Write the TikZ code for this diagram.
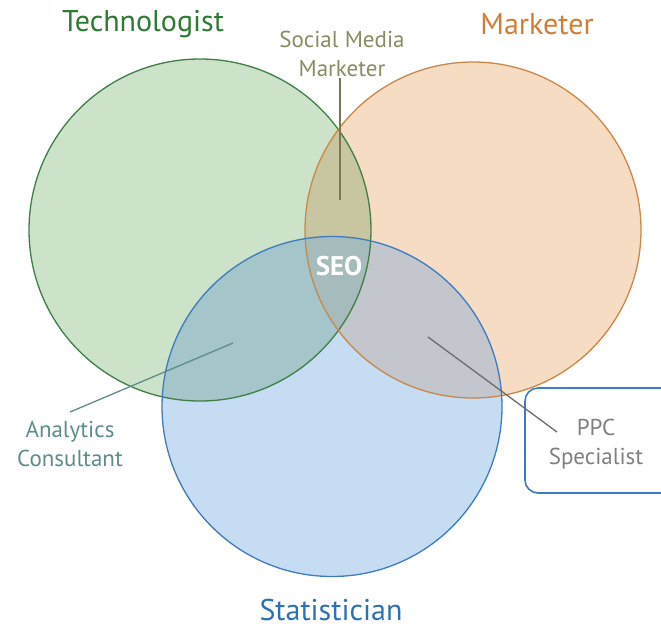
\documentclass[tikz,border=0pt]{standalone}
\usepackage{fontspec}
\setmainfont{PT Sans}
\definecolor{gfill}{HTML}{CDE3C9}
\definecolor{ofill}{HTML}{F6DCC3}
\definecolor{bfill}{HTML}{C6DCF3}
\definecolor{gbfill}{HTML}{A4C5C9}
\definecolor{obfill}{HTML}{C3C6CC}
\definecolor{gofill}{HTML}{C8C6A0}
\definecolor{allfill}{HTML}{A6BCBC}
\definecolor{gline}{HTML}{3E7F45}
\definecolor{oline}{HTML}{C8884A}
\definecolor{bline}{HTML}{3F7BC0}
\definecolor{gtext}{HTML}{2F7A32}
\definecolor{otext}{HTML}{D07E35}
\definecolor{btext}{HTML}{2E70B8}
\definecolor{smtext}{HTML}{8C8A62}
\definecolor{smline}{HTML}{7A7850}
\definecolor{actext}{HTML}{5E8C8C}
\definecolor{ppctext}{HTML}{7F7F7F}
\tikzset{
  lbl/.style={inner sep=0pt, align=center},
  big/.style={lbl, font=\fontsize{30}{32}\selectfont},
  small/.style={lbl, font=\fontsize{23}{29}\selectfont},
  ring/.style={line width=1.3pt},
  pointer/.style={line width=1.3pt}
}
\begin{document}
\begin{tikzpicture}[x=1pt,y=-1pt]
\useasboundingbox (0,0) rectangle (661,630);
\def\gc{(200,230) circle [radius=171]}
\def\oc{(473,230) circle [radius=168]}
\def\bc{(332,406.5) circle [radius=170]}
% base fills
\fill[gfill] \gc;
\fill[ofill] \oc;
\fill[bfill] \bc;
% pairwise overlaps
\begin{scope}\clip \gc; \fill[gofill] \oc; \end{scope}
\begin{scope}\clip \gc; \fill[gbfill] \bc; \end{scope}
\begin{scope}\clip \oc; \fill[obfill] \bc; \end{scope}
\begin{scope}\clip \gc; \clip \oc; \fill[allfill] \bc; \end{scope}
% outlines
\draw[ring, gline] \gc;
\draw[ring, oline] \oc;
\draw[ring, bline] \bc;
% box at right
\draw[line width=1.6pt, bline, rounded corners=13pt] (700,388) -- (525,388) -- (525,493) -- (700,493);
% labels
\node[big, text=gtext] (tech) at (143,24) {Technologist};
\node[big, text=otext] (mark) at (537,24) {Marketer};
\node[big, text=btext] (stat) at (331,610) {Statistician};
\node[small, text=smtext] (smm) at (342,54) {Social Media\\Marketer};
\node[lbl, text=white, font=\fontsize{27}{29}\selectfont\bfseries] (seo) at (339,266) {SEO};
\node[small, text=actext] (ac) at (70,444) {Analytics\\Consultant};
\node[small, text=ppctext] (ppc) at (596,444) {PPC\\Specialist};
% pointers
\coordinate (smmend) at (340,200);
\coordinate (acend) at (233,343);
\coordinate (ppcend) at (428,337);
\draw[pointer, smline] ([yshift=-1pt]smm.south -| smmend) -- (smmend);
\draw[pointer, actext] (70,412) -- (acend);
\draw[pointer, ppctext!85!black] (557,432) -- (ppcend);
\end{tikzpicture}
\end{document}
